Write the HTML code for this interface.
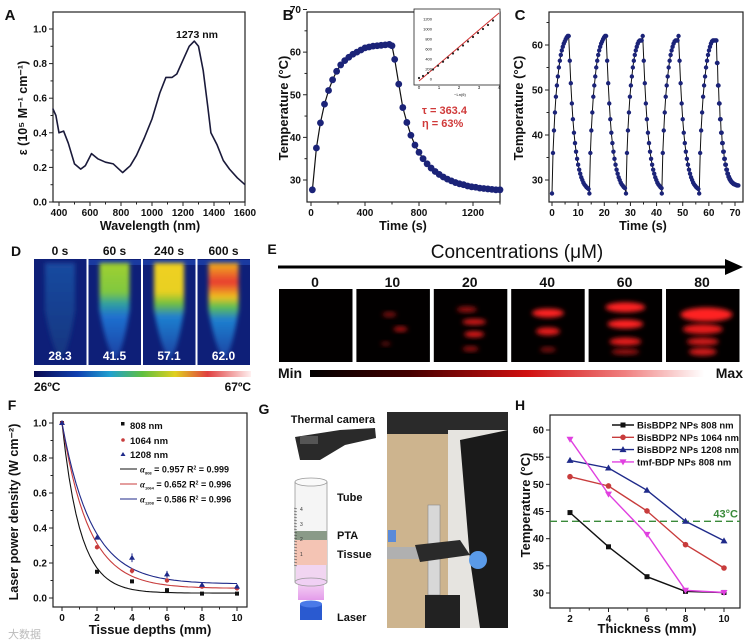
<!DOCTYPE html>
<html><head><meta charset="utf-8"><style>
html,body{margin:0;padding:0;background:#fff;}
svg{display:block;font-family:"Liberation Sans",Arial,sans-serif;}
</style></head><body>
<svg id="fig" width="750" height="642" viewBox="0 0 750 642" xmlns="http://www.w3.org/2000/svg">
<defs>
<filter id="blur3" x="-50%" y="-50%" width="200%" height="200%"><feGaussianBlur stdDeviation="2.5"/></filter>
<filter id="blur2" x="-50%" y="-50%" width="200%" height="200%"><feGaussianBlur stdDeviation="2"/></filter>
<linearGradient id="cbarD" x1="0" x2="1"><stop offset="0" stop-color="#0a0a50"/><stop offset="0.2" stop-color="#1040b0"/><stop offset="0.35" stop-color="#20a0d0"/><stop offset="0.5" stop-color="#60c040"/><stop offset="0.65" stop-color="#e0d020"/><stop offset="0.8" stop-color="#e04040"/><stop offset="1" stop-color="#fff0f0"/></linearGradient>
<linearGradient id="cbarE" x1="0" x2="1"><stop offset="0" stop-color="#000"/><stop offset="0.25" stop-color="#400"/><stop offset="0.55" stop-color="#d01010"/><stop offset="0.8" stop-color="#f08080"/><stop offset="1" stop-color="#fff"/></linearGradient>
<linearGradient id="tube0" x1="0" y1="0" x2="0" y2="1"><stop offset="0" stop-color="#1a4aa0"/><stop offset="1" stop-color="#14357f"/></linearGradient>
<linearGradient id="tube60" x1="0" y1="0" x2="0" y2="1"><stop offset="0" stop-color="#a0d030"/><stop offset="0.3" stop-color="#80c840"/><stop offset="0.42" stop-color="#30a0a0"/><stop offset="0.55" stop-color="#2070d0"/><stop offset="1" stop-color="#1a40a0"/></linearGradient>
<linearGradient id="tube240" x1="0" y1="0" x2="0" y2="1"><stop offset="0" stop-color="#f0d020"/><stop offset="0.3" stop-color="#e8d020"/><stop offset="0.42" stop-color="#70c040"/><stop offset="0.55" stop-color="#2080d0"/><stop offset="1" stop-color="#1a40a0"/></linearGradient>
<linearGradient id="tube600" x1="0" y1="0" x2="0" y2="1"><stop offset="0" stop-color="#f0b020"/><stop offset="0.2" stop-color="#e83a30"/><stop offset="0.35" stop-color="#f0c020"/><stop offset="0.45" stop-color="#60c050"/><stop offset="0.58" stop-color="#2080d0"/><stop offset="1" stop-color="#1a40a0"/></linearGradient>
<linearGradient id="beam" x1="0" y1="0" x2="0" y2="1"><stop offset="0" stop-color="#f8d0f0" stop-opacity="0.3"/><stop offset="1" stop-color="#e090e8" stop-opacity="0.9"/></linearGradient>
</defs>
<g id="gA"></g>
<g id="gB"></g>
<g id="gC"></g>
<g id="gD"></g>
<g id="gE"></g>
<g id="gF"></g>
<g id="gG"></g>
<g id="gH"></g>
</svg>
<script>
// ---------- DATA ----------
const A_wl  = [360,380,400,430,460,500,540,570,610,650,700,750,810,860,900,950,1000,1050,1090,1130,1160,1200,1240,1273,1300,1330,1360,1380,1420,1460,1500,1550,1600];
const A_eps = [0.54,0.50,0.40,0.41,0.34,0.22,0.19,0.21,0.28,0.25,0.23,0.22,0.17,0.21,0.27,0.37,0.48,0.63,0.72,0.72,0.74,0.82,0.90,0.93,0.90,0.76,0.55,0.40,0.33,0.24,0.19,0.14,0.10];
const A_xticks = [400,600,800,1000,1200,1400,1600];
const A_yticks = [0,0.2,0.4,0.6,0.8,1.0];

const B_t = [10,40,70,100,130,160,190,220,250,280,310,340,370,400,430,460,490,520,550,580,600,620,650,680,710,740,770,800,830,860,890,920,950,980,1010,1040,1070,1100,1130,1160,1190,1220,1250,1280,1310,1340,1370,1400];
const B_T = [27.7,37.5,43.4,47.8,51,53.5,55.5,57,58,58.8,59.5,60,60.5,61,61.2,61.4,61.5,61.6,61.7,61.8,61.5,58.3,52.5,47,43.5,40.5,38.2,36.5,35,33.8,32.8,32,31.3,30.7,30.2,29.8,29.4,29.1,28.9,28.6,28.4,28.3,28.1,28,27.9,27.8,27.7,27.7];
const B_xticks = [0,400,800,1200];
const B_yticks = [30,40,50,60,70];
const INS_x = [0,0.2,0.45,0.7,0.95,1.2,1.45,1.7,1.95,2.2,2.45,2.7,2.95,3.2,3.45,3.7];
const INS_y = [20,60,120,190,265,345,425,510,590,670,750,840,920,1000,1080,1170];
const INS_fit = [[0,-40],[4,1320]];

const C_starts = [0,14.3,28.3,42,56.3];
const C_peakOffset = [0,0,-1,-1,-1];
const C_heat = [27,36,41,45,48.5,51,53,55,56.5,57.8,58.8,59.6,60.3,60.8,61.3,61.7,62];
const C_cool = [62,56.5,51.5,47,43.5,40.5,38.2,36.3,34.7,33.4,32.3,31.4,30.6,30,29.4,29,28.7,28.4,28.2,28,27.9,27.8,27.8,27.8,27.8,27.8,27.8,27.8,27.8,27.8];
const C_lastCool = [61,56,51,47,43.5,40.5,38.2,36.3,34.7,33.4,32.3,31.4,30.7,30.2,29.8,29.5,29.3,29.1,29,28.9,28.8,28.8];
const C_xticks = [0,10,20,30,40,50,60,70];
const C_yticks = [30,40,50,60];

const F_depth = [0,2,4,6,8,10];
const F_808  = [1,0.15,0.095,0.045,0.025,0.025];
const F_1064 = [1,0.29,0.155,0.10,0.065,0.055];
const F_1208 = [1,0.345,0.23,0.135,0.075,0.065];
const F_err1064 = [0,0.01,0.015,0.01,0.005,0.005];
const F_err1208 = [0,0.01,0.025,0.02,0.008,0.01];
const F_alpha = [0.957,0.652,0.586];
const F_offset = [0.028,0.055,0.08];
const F_xticks = [0,2,4,6,8,10];
const F_yticks = [0,0.2,0.4,0.6,0.8,1.0];

const H_thick = [2,4,6,8,10];
const H_808  = [44.8,38.5,33,30.3,30.1];
const H_1064 = [51.4,49.7,45.1,38.9,34.6];
const H_1208 = [54.4,53,48.9,43.2,39.6];
const H_tmf  = [58.3,48.2,40.8,30.5,30.1];
const H_thresh = [43.2];
const H_xticks = [2,4,6,8,10];
const H_yticks = [30,35,40,45,50,55,60];

// ---------- HELPERS ----------
const NS="http://www.w3.org/2000/svg";
function mk(tag, attrs, parent){const e=document.createElementNS(NS,tag);for(const k in attrs)e.setAttribute(k,attrs[k]);parent.appendChild(e);return e;}
function txt(parent,x,y,s,size,anchor,weight,fill){const e=mk('text',{x:x,y:y,'font-size':size,'text-anchor':anchor||'middle','font-weight':weight||'bold',fill:fill||'#111'},parent);e.textContent=s;return e;}
function lin(d0,d1,r0,r1){return v=>r0+(v-d0)/(d1-d0)*(r1-r0);}
function axes(g,box,sx,sy,xt,yt,fmtx,fmty,minorX,minorY){
  const f=mk('rect',{x:box[0],y:box[1],width:box[2]-box[0],height:box[3]-box[1],fill:'none',stroke:'#222','stroke-width':1.2},g);
  
  
  xt.forEach(v=>{const x=sx(v);mk('line',{x1:x,y1:box[3],x2:x,y2:box[3]+4,stroke:'#222'},g);
    const t=txt(g,x,box[3]+14,fmtx(v),10);
    
    });
  (minorX||[]).forEach(v=>{const x=sx(v);mk('line',{x1:x,y1:box[3],x2:x,y2:box[3]+2.5,stroke:'#222'},g);});
  yt.forEach(v=>{const y=sy(v);mk('line',{x1:box[0],y1:y,x2:box[0]-4,y2:y,stroke:'#222'},g);
    const t=txt(g,box[0]-6,y+3.5,fmty(v),10,'end');
    
    });
  (minorY||[]).forEach(v=>{const y=sy(v);mk('line',{x1:box[0],y1:y,x2:box[0]-2.5,y2:y,stroke:'#222'},g);});
}
function pathFrom(xs,ys,sx,sy){return xs.map((v,i)=>(i?'L':'M')+sx(v).toFixed(1)+' '+sy(ys[i]).toFixed(1)).join(' ');}
function vtitle(g,x,y,s,size){const t=txt(g,x,y,s,size);t.setAttribute('transform','rotate(-90 '+x+' '+y+')');return t;}

// ---------- PANEL A ----------
(function(){
const g=document.getElementById('gA');
const sx=lin(400,1600,59,245), sy=lin(0,1,202,29);
axes(g,[53,12,245,202],sx,sy,A_xticks,A_yticks,v=>String(v),v=>v.toFixed(1),[500,700,900,1100,1300,1500],[0.1,0.3,0.5,0.7,0.9]);
const p=mk('path',{d:pathFrom(A_wl,A_eps,sx,sy),fill:'none',stroke:'#1a1a3a','stroke-width':1.6,'stroke-linejoin':'round'},g);


let t=txt(g,10,20,'A',15);
t=txt(g,197,38,'1273 nm',10.5);
t=txt(g,150,230,'Wavelength (nm)',12.5);
t=vtitle(g,27,108,'ε (10⁵ M⁻¹ cm⁻¹)',12.5);
})();

// ---------- PANEL B ----------
(function(){
const g=document.getElementById('gB');
const sx=lin(0,400,311,365), sy=lin(30,70,180,9.5);
axes(g,[307,12,500,202],sx,sy,B_xticks,B_yticks,v=>String(v),v=>String(v),[200,600,1000,1400],[35,45,55,65]);
const p=mk('path',{d:pathFrom(B_t,B_T,sx,sy),fill:'none',stroke:'#111','stroke-width':1.2},g);


B_t.forEach((v,i)=>{const c=mk('circle',{cx:sx(v),cy:sy(B_T[i]),r:3.4,fill:'#1b2378'},g);
 
 });
const ig=mk('g',{},g);


mk('rect',{x:414,y:9,width:86,height:76,fill:'#fff',stroke:'#222','stroke-width':0.8},ig);
const ix=lin(0,4,419,499), iy=lin(0,1200,79,19);
const fl=mk('path',{d:pathFrom(INS_fit.map(d=>d[0]),INS_fit.map(d=>d[1]),ix,iy),stroke:'#d03030','stroke-width':1},ig);


INS_x.forEach((v,i)=>{const c=mk('circle',{cx:ix(v),cy:iy(INS_y[i]),r:1.1,fill:'#222'},ig);
 
 });
[0,1,2,3,4].forEach(v=>{txt(ig,ix(v),89,String(v),4.5,'middle','normal');});
[0,200,400,600,800,1000,1200].forEach(v=>{txt(ig,432,iy(v)+1.5,String(v),4,'end','normal');});
txt(ig,460,96,'−Ln(θ)',4,'middle','normal');
let t=txt(g,288,20,'B',15);
t=txt(g,422,114,'τ = 363.4',11,'start','bold','#d03a3a');
t=txt(g,422,127,'η = 63%',11,'start','bold','#d03a3a');
t=txt(g,403,230,'Time (s)',12.5);
t=vtitle(g,288,108,'Temperature (°C)',13);
})();

// ---------- PANEL C ----------
(function(){
const g=document.getElementById('gC');
const sx=lin(0,70,552,735), sy=lin(30,60,180,45);
axes(g,[549,12,743,202],sx,sy,C_xticks,C_yticks,v=>String(v),v=>String(v),[5,15,25,35,45,55,65],[35,45,55,65]);
let xs=[],ys=[];
C_starts.forEach((s,ci)=>{
  C_heat.forEach((v,i)=>{xs.push(s+i*0.375);ys.push(Math.min(v,62+C_peakOffset[ci]));});
  const end=ci<C_starts.length-1?C_starts[ci+1]:74;
  const arr=ci<C_starts.length-1?C_cool:C_lastCool;
  arr.forEach((v,i)=>{const t=s+6+(i+1)*0.4;if(t<end-0.05){xs.push(t);ys.push(v);}});
  if(ci===C_starts.length-1){C_lastCool.forEach((v,i)=>{const t=s+6+(i+1)*0.4+0.2;if(t<=74){xs.push(t);ys.push(v);}});}
});
const order=xs.map((x,i)=>[x,ys[i]]).sort((a,b)=>a[0]-b[0]);
xs=order.map(d=>d[0]);ys=order.map(d=>d[1]);
const p=mk('path',{d:pathFrom(xs,ys,sx,sy),fill:'none',stroke:'#111','stroke-width':1},g);


xs.forEach((v,i)=>{const c=mk('circle',{cx:sx(v),cy:sy(ys[i]),r:2.2,fill:'#1b2378'},g);
 
 });
let t=txt(g,520,20,'C',15);
t=txt(g,643,230,'Time (s)',12.5);
t=vtitle(g,523,108,'Temperature (°C)',13);
})();

// ---------- PANEL D ----------
(function(){
const g=document.getElementById('gD');
const labels=['0 s','60 s','240 s','600 s'], temps=['28.3','41.5','57.1','62.0'], grads=['tube0','tube60','tube240','tube600'];
let t=txt(g,16,256,'D',14);
labels.forEach((s,i)=>{
  const x0=34+i*54.5;
  const lg=txt(g,x0+26,255,s,12);
  const r=mk('rect',{x:x0,y:259,width:52.5,height:106,fill:'#0e1f78'},g);
  
  
  if(i>0)mk('rect',{x:x0,y:260,width:52.5,height:5,fill:'#1a3aa0'},g);
  const tube=mk('path',{d:`M${x0+11} 263 L${x0+41} 263 L${x0+41} 310 Q${x0+35} 350 ${x0+27} 360 Q${x0+18} 350 ${x0+11} 310 Z`,fill:'url(#'+grads[i]+')',filter:'url(#blur2)'},g);
  
  
  const tv=txt(g,x0+26,360,temps[i],12,'middle','bold','#fff');
});
const cb=mk('rect',{x:34,y:371,width:217,height:6,fill:'url(#cbarD)'},g);

t=txt(g,34,391,'26ºC',12,'start');
t=txt(g,251,391,'67ºC',12,'end');
})();

// ---------- PANEL E ----------
(function(){
const g=document.getElementById('gE');
let t=txt(g,272,254,'E',14);
t=txt(g,517,258,'Concentrations (μM)',19,'middle','normal');
const ar=mk('line',{x1:278,y1:267,x2:728,y2:267,stroke:'#000','stroke-width':3},g);

mk('path',{d:'M725 259 L743 267 L725 275 Z',fill:'#000'},g);
const conc=['0','10','20','40','60','80'];
const blobs=[[],[[0.45,0.35,7,2.5,0.5],[0.6,0.55,7,2.5,0.7],[0.4,0.75,5,2,0.4]],[[0.45,0.28,10,3,0.6],[0.55,0.45,12,3,0.85],[0.55,0.62,10,3,0.9],[0.5,0.82,8,2.5,0.6]],[[0.5,0.33,16,4.5,1],[0.5,0.58,12,4,0.9],[0.5,0.83,8,2.5,0.5]],[[0.5,0.25,20,5,1],[0.5,0.48,18,4.5,1],[0.5,0.72,16,4,0.9],[0.5,0.86,14,3,0.6]],[[0.55,0.35,26,7,1],[0.5,0.55,20,5,0.9],[0.5,0.72,16,4,0.8],[0.5,0.86,14,4,0.8]]];
conc.forEach((c,i)=>{
  const x0=279+i*77.4;
  const lab=txt(g,x0+36,287,c,14);
  const r=mk('rect',{x:x0,y:289,width:73.5,height:73,fill:'#020000'},g);
  
  blobs[i].forEach(b=>{mk('ellipse',{cx:x0+b[0]*73.5,cy:289+b[1]*73,rx:b[2],ry:b[3],fill:'#ff2020','fill-opacity':b[4],filter:'url(#blur3)'},g);});
});
t=txt(g,278,378,'Min',14,'start');
const cb=mk('rect',{x:310,y:370,width:394,height:7,fill:'url(#cbarE)'},g);

t=txt(g,743,378,'Max',14,'end');
})();

// ---------- PANEL F ----------
(function(){
const g=document.getElementById('gF');
const sx=lin(0,10,62,237), sy=lin(0,1,598,423);
axes(g,[53,413,247,607],sx,sy,F_xticks,F_yticks,v=>String(v),v=>v.toFixed(1),[1,3,5,7,9],[0.1,0.3,0.5,0.7,0.9]);
const cols=['#111','#c83c3c','#1f2a8a'];
[0,1,2].forEach(k=>{const xs=[],ys=[];for(let d=0;d<=10.01;d+=0.2){xs.push(d);ys.push((1-F_offset[k])*Math.exp(-F_alpha[k]*d)+F_offset[k]);}
  const p=mk('path',{d:pathFrom(xs,ys,sx,sy),fill:'none',stroke:cols[k],'stroke-width':1.1},g);
  });
F_depth.forEach((d,i)=>{
  const s=mk('rect',{x:sx(d)-2,y:sy(F_808[i])-2,width:4,height:4,fill:'#111'},g);
  
  mk('line',{x1:sx(d),y1:sy(F_1064[i]-F_err1064[i]),x2:sx(d),y2:sy(F_1064[i]+F_err1064[i]),stroke:'#c83c3c'},g);
  const c=mk('circle',{cx:sx(d),cy:sy(F_1064[i]),r:2.2,fill:'#c83c3c'},g);
  
  mk('line',{x1:sx(d),y1:sy(F_1208[i]-F_err1208[i]),x2:sx(d),y2:sy(F_1208[i]+F_err1208[i]),stroke:'#1f2a8a'},g);
  const tr=mk('path',{d:`M${sx(d)} ${sy(F_1208[i])-3} l3 5 l-6 0 Z`,fill:'#1f2a8a'},g);
  
});
const lg=mk('g',{},g);
mk('rect',{x:121,y:422,width:3.5,height:3.5,fill:'#111'},lg);txt(lg,130,429,'808   nm',9.5,'start');
mk('circle',{cx:123,cy:440,r:1.8,fill:'#c83c3c'},lg);txt(lg,130,444,'1064 nm',9.5,'start');
mk('path',{d:'M123 452 l2.5 4 l-5 0Z',fill:'#1f2a8a'},lg);txt(lg,130,458,'1208 nm',9.5,'start');
const fl=[['808','0.957','0.999'],['1064','0.652','0.996'],['1208','0.586','0.996']];
fl.forEach((f,k)=>{const y=469+k*15;mk('line',{x1:120,y1:y,x2:137,y2:y,stroke:cols[k],'stroke-width':1.1},lg);
  const tt=mk('text',{x:140,y:y+3.5,'font-size':9,'font-weight':'bold',fill:'#111'},lg);
  tt.innerHTML='<tspan font-style="italic" font-family="Liberation Serif">α</tspan><tspan font-size="4" dy="2">'+f[0]+'</tspan><tspan dy="-2"> = '+f[1]+'  R</tspan><tspan font-size="5" dy="-3">2</tspan><tspan dy="3"> = '+f[2]+'</tspan>';
  });
let t=txt(g,12,410,'F',14);
t=txt(g,150,634,'Tissue depths (mm)',13);
t=vtitle(g,18,512,'Laser power density (W cm⁻²)',12.5);
t=txt(g,8,638,'大数据',11,'start','normal','#bbb');
})();

// ---------- PANEL G ----------
(function(){
const g=document.getElementById('gG');
let t=txt(g,264,414,'G',14);
t=txt(g,333,423,'Thermal camera',11);
const cam=mk('g',{},g);
mk('path',{d:'M295 437 L340 430 L375 428 L376 438 L345 445 L320 460 L300 460 Z',fill:'#2a2a2a'},cam);
mk('rect',{x:300,y:436,width:18,height:8,fill:'#555'},cam);
const tube=mk('g',{},g);
mk('rect',{x:298,y:565,width:26,height:35,fill:'url(#beam)'},tube);
mk('rect',{x:295,y:482,width:32,height:100,fill:'#f5f5f5',stroke:'#999','stroke-width':0.8},tube);
mk('ellipse',{cx:311,cy:482,rx:16,ry:4,fill:'#fafafa',stroke:'#999','stroke-width':0.8},tube);
mk('rect',{x:295,y:531,width:32,height:9,fill:'#8a9a88'},tube);
mk('rect',{x:295,y:540,width:32,height:25,fill:'#f4c4b4'},tube);
mk('rect',{x:296,y:565,width:30,height:17,fill:'#f0c8f0','fill-opacity':0.7},tube);
mk('ellipse',{cx:311,cy:582,rx:16,ry:4,fill:'#f0d0f4',stroke:'#999','stroke-width':0.8},tube);
['4','3','2','1'].forEach((s,i)=>{txt(tube,300,511+i*15,s,5,'start','normal','#333');
  for(let j=0;j<5;j++)mk('line',{x1:294,y1:508+i*15+j*3,x2:297,y2:509+i*15+j*3,stroke:'#333','stroke-width':0.5},tube);});
const las=mk('g',{},g);
mk('rect',{x:300,y:604,width:22,height:16,fill:'#2a5ad0'},las);
mk('ellipse',{cx:311,cy:604,rx:11,ry:3.5,fill:'#4a7ae8'},las);
t=txt(g,337,501,'Tube',11,'start');
t=txt(g,337,539,'PTA',11,'start');
t=txt(g,337,558,'Tissue',11,'start');
t=txt(g,337,621,'Laser',11,'start');
const ph=mk('g',{},g);
mk('rect',{x:387,y:412,width:121,height:216,fill:'#cdb48e'},ph);
mk('rect',{x:387,y:412,width:121,height:22,fill:'#2a2a2a'},ph);
mk('rect',{x:448,y:430,width:60,height:198,fill:'#e6e4e0'},ph);
mk('path',{d:'M460 440 L508 430 L508 628 L480 628 L470 560 Z',fill:'#1a1a1a'},ph);
mk('rect',{x:428,y:505,width:12,height:90,fill:'#d8d8d8',stroke:'#888','stroke-width':0.6},ph);
mk('rect',{x:387,y:547,width:55,height:12,fill:'#b0b0b0'},ph);
mk('path',{d:'M415 545 L460 540 L470 555 L420 562 Z',fill:'#2a2a2a'},ph);
mk('circle',{cx:478,cy:560,r:9,fill:'#5a9ae8'},ph);
mk('rect',{x:388,y:530,width:8,height:12,fill:'#5a8ad8'},ph);
mk('rect',{x:425,y:595,width:35,height:33,fill:'#222'},ph);
})();

// ---------- PANEL H ----------
(function(){
const g=document.getElementById('gH');
const sx=lin(2,10,570,724), sy=lin(30,60,593,430);
axes(g,[550,415,740,608],sx,sy,H_xticks,H_yticks,v=>String(v),v=>String(v),[3,5,7,9],[]);
const th=mk('line',{x1:550,y1:sy(H_thresh[0]),x2:740,y2:sy(H_thresh[0]),stroke:'#3a8a3a','stroke-width':1.4,'stroke-dasharray':'7 4'},g);

let t=txt(g,738,sy(H_thresh[0])-4,'43°C',11,'end','bold','#3a8a3a');
const series=[[H_808,'#111','sq'],[H_1064,'#c83c3c','ci'],[H_1208,'#1f2a8a','up'],[H_tmf,'#e040e0','dn']];
function marker(p,x,y,type,col){let e;
  if(type==='sq')e=mk('rect',{x:x-2.5,y:y-2.5,width:5,height:5,fill:col},p);
  else if(type==='ci')e=mk('circle',{cx:x,cy:y,r:2.8,fill:col},p);
  else if(type==='up')e=mk('path',{d:`M${x} ${y-3.5} l3.5 6 l-7 0Z`,fill:col},p);
  else e=mk('path',{d:`M${x} ${y+3.5} l3.5 -6 l-7 0Z`,fill:col},p);
  return e;}
series.forEach(s=>{const p=mk('path',{d:pathFrom(H_thick,s[0],sx,sy),fill:'none',stroke:s[1],'stroke-width':1.4},g);
  
  H_thick.forEach((v,i)=>{const m=marker(g,sx(v),sy(s[0][i]),s[2],s[1]);
    
    });});
const names=['BisBDP2 NPs 808 nm','BisBDP2 NPs 1064 nm','BisBDP2 NPs 1208 nm','tmf-BDP NPs 808 nm'];
const lg=mk('g',{},g);
names.forEach((n,k)=>{const y=425+k*12.3;mk('line',{x1:612,y1:y,x2:634,y2:y,stroke:series[k][1],'stroke-width':1.4},lg);
  marker(lg,623,y,series[k][2],series[k][1]);
  const e=txt(lg,637,y+3.5,n,9.5,'start');});
t=txt(g,520,410,'H',14);
t=txt(g,647,633,'Thickness (mm)',13);
t=vtitle(g,530,505,'Temperature (°C)',13);
})();
</script>
</body></html>
